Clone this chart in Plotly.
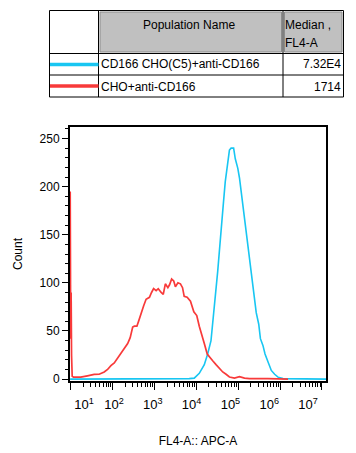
import plotly.graph_objects as go

# ---------------- data ----------------
# x values are log10(FL4-A), y values are counts
blue_name = "CD166 CHO(C5)+anti-CD166"
blue_median = "7.32E4"
blue_log = [0.985, 3.5, 3.83, 3.95, 4.07, 4.19, 4.27, 4.35, 4.39, 4.45, 4.51, 4.55, 4.61, 4.65,
            4.69, 4.74, 4.79, 4.83, 4.89, 4.93, 4.99, 5.03, 5.07, 5.13, 5.17, 5.21, 5.25, 5.29,
            5.33, 5.37, 5.43, 5.49, 5.53, 5.59, 5.64, 5.71, 5.79, 5.87, 5.95, 6.07, 7.1]
blue_cnt = [0, 0, 0.5, 1, 6, 15, 26, 40, 57, 81, 112, 133, 160, 185,
            205, 222, 238, 240, 240, 229, 219, 209, 195, 174, 160, 143, 128, 119,
            102, 88, 69, 57, 42, 35, 26, 18, 9, 5, 2, 0.5, 0]

red_name = "CHO+anti-CD166"
red_median = "1714"
red_log = [0.988, 1.0, 1.01, 1.02, 1.035, 1.067, 1.24, 1.40, 1.56, 1.68, 1.80, 1.88, 1.96, 2.04,
           2.12, 2.20, 2.28, 2.36, 2.42, 2.48, 2.52, 2.58, 2.62, 2.68, 2.74, 2.80, 2.88, 2.93,
           2.98, 3.04, 3.09, 3.16, 3.21, 3.26, 3.32, 3.36, 3.41, 3.46, 3.50, 3.56, 3.62, 3.67,
           3.71, 3.78, 3.86, 3.94, 4.01, 4.07, 4.13, 4.19, 4.26, 4.31, 4.39, 4.47, 4.55, 4.63,
           4.71, 4.79, 4.91, 5.03, 5.15, 5.27, 5.71, 6.03, 6.19]
red_cnt = [195, 42, 90, 25, 3, 2, 2, 3.4, 4.8, 5, 7.4, 10, 14, 16.7,
           22, 26, 31.5, 37, 43, 54, 55, 55, 60, 69, 76, 83, 85, 90,
           94, 92, 94, 90, 88, 99, 95, 98, 104, 102, 96, 100, 99, 95,
           86, 85, 81, 70, 66, 55, 47, 37, 26, 23, 19, 15, 11, 7.4,
           5, 2.2, 1, 2.5, 1, 0.5, 0.5, 0.3, 0]

y_ticks = [0, 50, 100, 150, 200, 250]
x_decades = [1, 2, 3, 4, 5, 6, 7]
x_tick_text = ["10<sup>%d</sup>" % d for d in x_decades]
# label grid used by the original software (labels drawn slightly off the tick marks)
x_label_pos = [1.225, 2, 3, 4, 5, 6, 7]

# ---------------- styles ----------------
BLUE = "#18C6F2"
RED = "#F83A3A"
FONT = "Liberation Sans, Arial, sans-serif"
W, H = 356, 453
L, R, T, B = 70, 326, 127, 381


def px(p):
    return (p - L) / (R - L)


def py(p):
    return (B - p) / (B - T)


fig = go.Figure()
fig.add_trace(go.Scatter(x=[10 ** v for v in blue_log], y=blue_cnt, mode="lines",
                         line=dict(color=BLUE, width=1.6), name=blue_name, showlegend=False))
fig.add_trace(go.Scatter(x=[10 ** v for v in red_log], y=red_cnt, mode="lines",
                         line=dict(color=RED, width=1.7), name=red_name, showlegend=False))
# carrier trace for the tick-label axis
fig.add_trace(go.Scatter(x=[None], y=[None], xaxis="x2", showlegend=False, hoverinfo="skip"))

minor_vals = [m * 10 ** k for k in range(1, 7) for m in range(2, 10)]

fig.update_layout(
    width=W, height=H,
    margin=dict(l=L, r=W - R, t=T, b=H - B, autoexpand=False),
    paper_bgcolor="white", plot_bgcolor="white",
    font=dict(family=FONT, size=12, color="black"),
    xaxis=dict(type="log", range=[0.983, 7.096], showgrid=False, zeroline=False,
               showline=True, linecolor="black", linewidth=2, mirror=True,
               tickmode="array", tickvals=[10 ** d for d in x_decades],
               ticks="outside", ticklen=7, tickwidth=1, tickcolor="black",
               showticklabels=False,
               minor=dict(tickmode="array", tickvals=minor_vals, ticks="outside",
                          ticklen=4, tickwidth=1, tickcolor="black", showgrid=False),
               title=dict(text="FL4-A:: APC-A", font=dict(size=12), standoff=48)),
    xaxis2=dict(overlaying="x", anchor="y", side="bottom", range=[0.863, 7.465],
                showgrid=False, zeroline=False, showline=False, ticks="",
                tickmode="array", tickvals=x_label_pos, ticktext=x_tick_text,
                tickfont=dict(size=13), ticklabelstandoff=14),
    yaxis=dict(range=[-2, 262], showgrid=False, zeroline=False,
               showline=True, linecolor="black", linewidth=2, mirror=True,
               tickmode="array", tickvals=y_ticks, ticks="outside", ticklen=6,
               tickwidth=1, tickcolor="black", tickfont=dict(size=12),
               minor=dict(dtick=10, ticks="outside", ticklen=3, tickwidth=1,
                          tickcolor="black", showgrid=False),
               title=dict(text="Count", font=dict(size=12), standoff=14)),
)

# ---------------- table ----------------
shapes = []
TL, TR, TT, TB = 49.5, 343.5, 10.5, 97
C1, C2 = 98.5, 283
R1, R2 = 53.5, 75

def rect(x0, y0, x1, y1, **kw):
    shapes.append(dict(type="rect", xref="paper", yref="paper",
                       x0=px(x0), x1=px(x1), y0=py(y0), y1=py(y1), **kw))

def line(x0, y0, x1, y1, color="black", width=1):
    shapes.append(dict(type="line", xref="paper", yref="paper",
                       x0=px(x0), x1=px(x1), y0=py(y0), y1=py(y1),
                       line=dict(color=color, width=width)))

rect(TL, TT, TR, TB, fillcolor="white", line=dict(color="black", width=1))
rect(C1 + 1.5, TT + 1.5, C2 - 1.5, R1 - 1.5, fillcolor="#C0C0C0", line=dict(color="#8C8C8C", width=1))
rect(C2 + 1.5, TT + 1.5, TR - 1.5, R1 - 1.5, fillcolor="#C0C0C0", line=dict(color="#8C8C8C", width=1))
line(C1, TT, C1, TB)
line(C2, TT, C2, TB)
line(TL, R1, TR, R1)
line(TL, R2, TR, R2)
line(TL + 0.5, 64.5, C1, 64.5, color=BLUE, width=3.5)
line(TL + 0.5, 86, C1, 86, color=RED, width=3.5)

annotations = []

def text(t, x, y, xanchor="left"):
    annotations.append(dict(text=t, xref="paper", yref="paper", x=px(x), y=py(y),
                            xanchor=xanchor, yanchor="middle", showarrow=False,
                            font=dict(size=12, family=FONT, color="black")))

text("Population Name", 189, 25, "center")
text("Median ,", 283, 25)
text("FL4-A", 283, 43)
text(blue_name, 98.5, 64)
text(blue_median, 342.5, 64, "right")
text(red_name, 98.5, 86.5)
text(red_median, 342.5, 86.5, "right")

fig.update_layout(shapes=shapes, annotations=annotations)
fig.write_html("out.html", config={"displayModeBar": False},
               post_script="document.body.style.margin='0px';")
